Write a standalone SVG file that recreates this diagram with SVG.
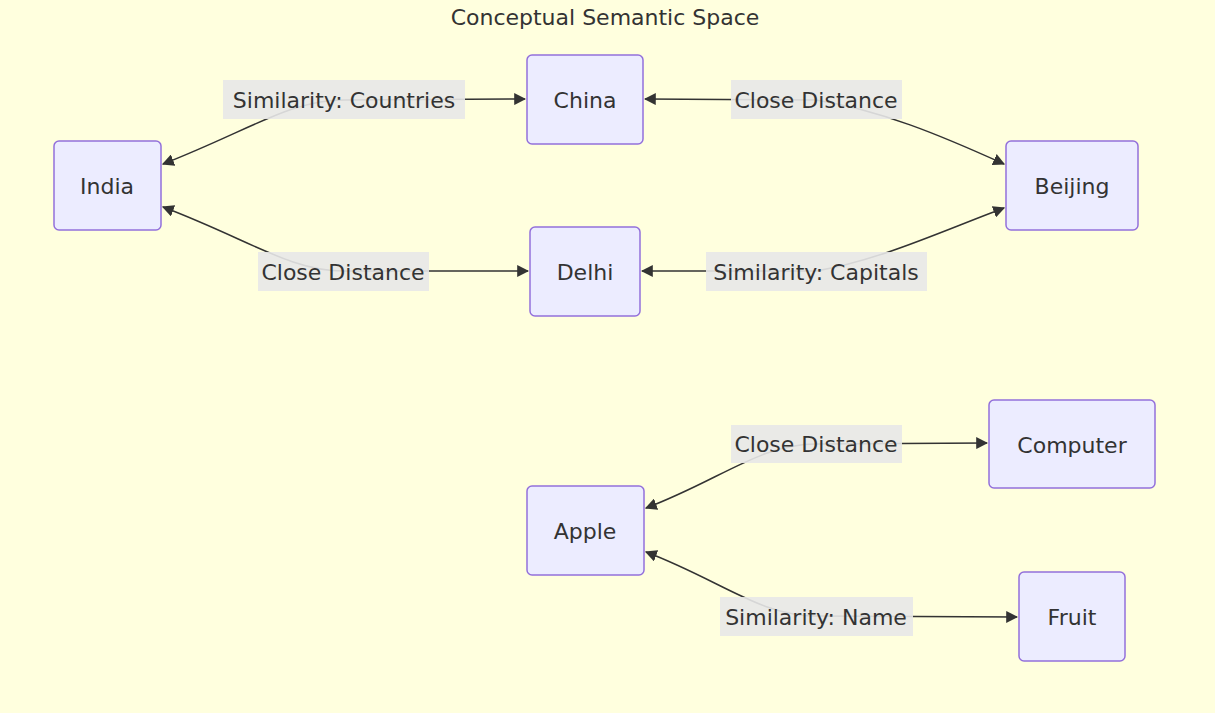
<svg xmlns="http://www.w3.org/2000/svg" width="1215" height="713" viewBox="0 0 1215 713">
<style>
text{font-family:"DejaVu Sans",sans-serif;font-size:22px;fill:#333;text-anchor:middle;dominant-baseline:central}
.n rect{fill:#ECECFF;stroke:#9370DB;stroke-width:1.5}
.e path{fill:none;stroke:#333;stroke-width:1.5}
.l rect{fill:#e8e8e8;opacity:0.9}
</style>
<defs><marker id="a" viewBox="0 0 10 10" refX="9" refY="5" markerWidth="8" markerHeight="8" orient="auto-start-reverse"><path d="M0,0L10,5L0,10z" fill="#333"/></marker></defs>
<rect width="1215" height="713" fill="#FFFFDE"/>
<text x="605" y="17">Conceptual Semantic Space</text>
<g class="e">
<path d="M163,164 C250,130 290,100 344,100 L525,99" marker-start="url(#a)" marker-end="url(#a)"/>
<path d="M645,99 L816,100 C880,110 940,135 1004,164" marker-start="url(#a)" marker-end="url(#a)"/>
<path d="M163,207 C250,240 290,271 344,271 L528,271" marker-start="url(#a)" marker-end="url(#a)"/>
<path d="M642,271 L816,271 C880,260 940,232 1004,208" marker-start="url(#a)" marker-end="url(#a)"/>
<path d="M646,508 C720,480 760,444 816,444 L987,443" marker-start="url(#a)" marker-end="url(#a)"/>
<path d="M646,552 C720,580 760,616 816,616 L1017,617" marker-start="url(#a)" marker-end="url(#a)"/>
</g>
<g class="l">
<rect x="223" y="80" width="242" height="39"/><text x="344" y="100">Similarity: Countries</text>
<rect x="731" y="80" width="171" height="39"/><text x="816" y="100">Close Distance</text>
<rect x="258" y="252" width="171" height="39"/><text x="343" y="272">Close Distance</text>
<rect x="706" y="252" width="221" height="39"/><text x="816" y="272">Similarity: Capitals</text>
<rect x="731" y="425" width="171" height="38"/><text x="816" y="444">Close Distance</text>
<rect x="720" y="597" width="193" height="39"/><text x="816" y="617">Similarity: Name</text>
</g>
<g id="china" class="n"><rect x="527" y="55" width="116" height="89" rx="5"/><text x="585" y="100">China</text></g>
<g id="india" class="n"><rect x="54" y="141" width="107" height="89" rx="5"/><text x="107" y="186">India</text></g>
<g id="beijing" class="n"><rect x="1006" y="141" width="132" height="89" rx="5"/><text x="1072" y="186">Beijing</text></g>
<g id="delhi" class="n"><rect x="530" y="227" width="110" height="89" rx="5"/><text x="585" y="272">Delhi</text></g>
<g id="computer" class="n"><rect x="989" y="400" width="166" height="88" rx="5"/><text x="1072" y="445">Computer</text></g>
<g id="apple" class="n"><rect x="527" y="486" width="117" height="89" rx="5"/><text x="585" y="531">Apple</text></g>
<g id="fruit" class="n"><rect x="1019" y="572" width="106" height="89" rx="5"/><text x="1072" y="617">Fruit</text></g>
</svg>
